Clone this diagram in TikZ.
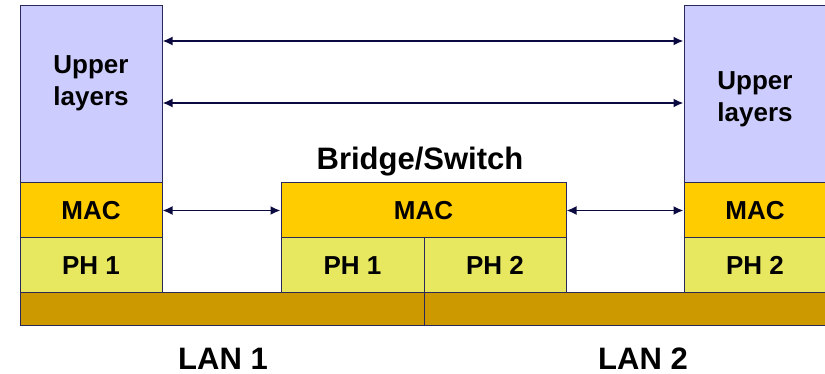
\documentclass[tikz,border=0pt]{standalone}
\usepackage{fontspec}
\setmainfont{Liberation Sans}
\usepackage{xcolor}
\definecolor{edgeNavy}{RGB}{40, 40, 90}
\definecolor{arrNavy}{RGB}{10, 10, 64}
\definecolor{upperLav}{RGB}{204, 204, 255}
\definecolor{macGold}{RGB}{255, 204, 0}
\definecolor{phYellow}{RGB}{232, 232, 96}
\definecolor{lanBrown}{RGB}{204, 153, 0}
\usepackage{tikz}
\usetikzlibrary{arrows.meta, positioning}

\begin{document}
\begin{tikzpicture}[x=1pt, y=-1pt,
    box/.style={
        rectangle, draw=edgeNavy, line width=1pt, inner sep=0pt,
        text centered, font=\bfseries\fontsize{26}{32}\selectfont
    },
    upper/.style={box, fill=upperLav, minimum width=142pt, minimum height=177pt},
    uptxt/.style={align=center, inner sep=0pt, font=\bfseries\fontsize{26}{32}\selectfont},
    mac/.style={box, fill=macGold, minimum height=55pt},
    phy/.style={box, fill=phYellow, minimum height=55pt},
    lanbar/.style={box, fill=lanBrown, minimum height=32pt},
    title/.style={anchor=base, font=\bfseries\fontsize{31}{36}\selectfont},
    arr/.style={{Latex[length=10pt,width=9pt]}-{Latex[length=10pt,width=9pt]}, line width=1.8pt, arrNavy}
]
\useasboundingbox (0,0) rectangle (825,374);

% LAN segments
\node[lanbar, minimum width=404pt] (lan1bar) at (222,309) {};
\node[lanbar, minimum width=402pt] (lan2bar) at (625,309) {};

% left station
\node[upper] (ul) at (91,94.5) {};
\node[uptxt] (ultxt) at (91,83) {Upper\\layers};
\node[mac, minimum width=142pt] (macl) at (91,210.5) {MAC};
\node[phy, minimum width=142pt] (phl) at (91,265.5) {PH 1};

% bridge
\node[mac, minimum width=285pt] (macb) at (423.5,210.5) {MAC};
\node[phy, minimum width=143pt] (phb1) at (352.5,265.5) {PH 1};
\node[phy, minimum width=142pt] (phb2) at (495,265.5) {PH 2};
\node[title] (brlbl) at (420,170) {Bridge/Switch};

% right station
\node[upper] (ur) at (755,94.5) {};
\node[uptxt] (urtxt) at (755,99) {Upper\\layers};
\node[mac, minimum width=142pt] (macr) at (755,210.5) {MAC};
\node[phy, minimum width=142pt] (phr) at (755,265.5) {PH 2};

\node[title] (lan1) at (223,369) {LAN 1};
\node[title] (lan2) at (643,369) {LAN 2};

\draw[arr] ([yshift=53.5pt]ul.east) -- ([yshift=53.5pt]ur.west);
\draw[arr] ([yshift=-8.5pt]ul.east) -- ([yshift=-8.5pt]ur.west);
\draw[arr] (macl.east) -- (macb.west);
\draw[arr] (macb.east) -- (macr.west);

\end{tikzpicture}
\end{document}
